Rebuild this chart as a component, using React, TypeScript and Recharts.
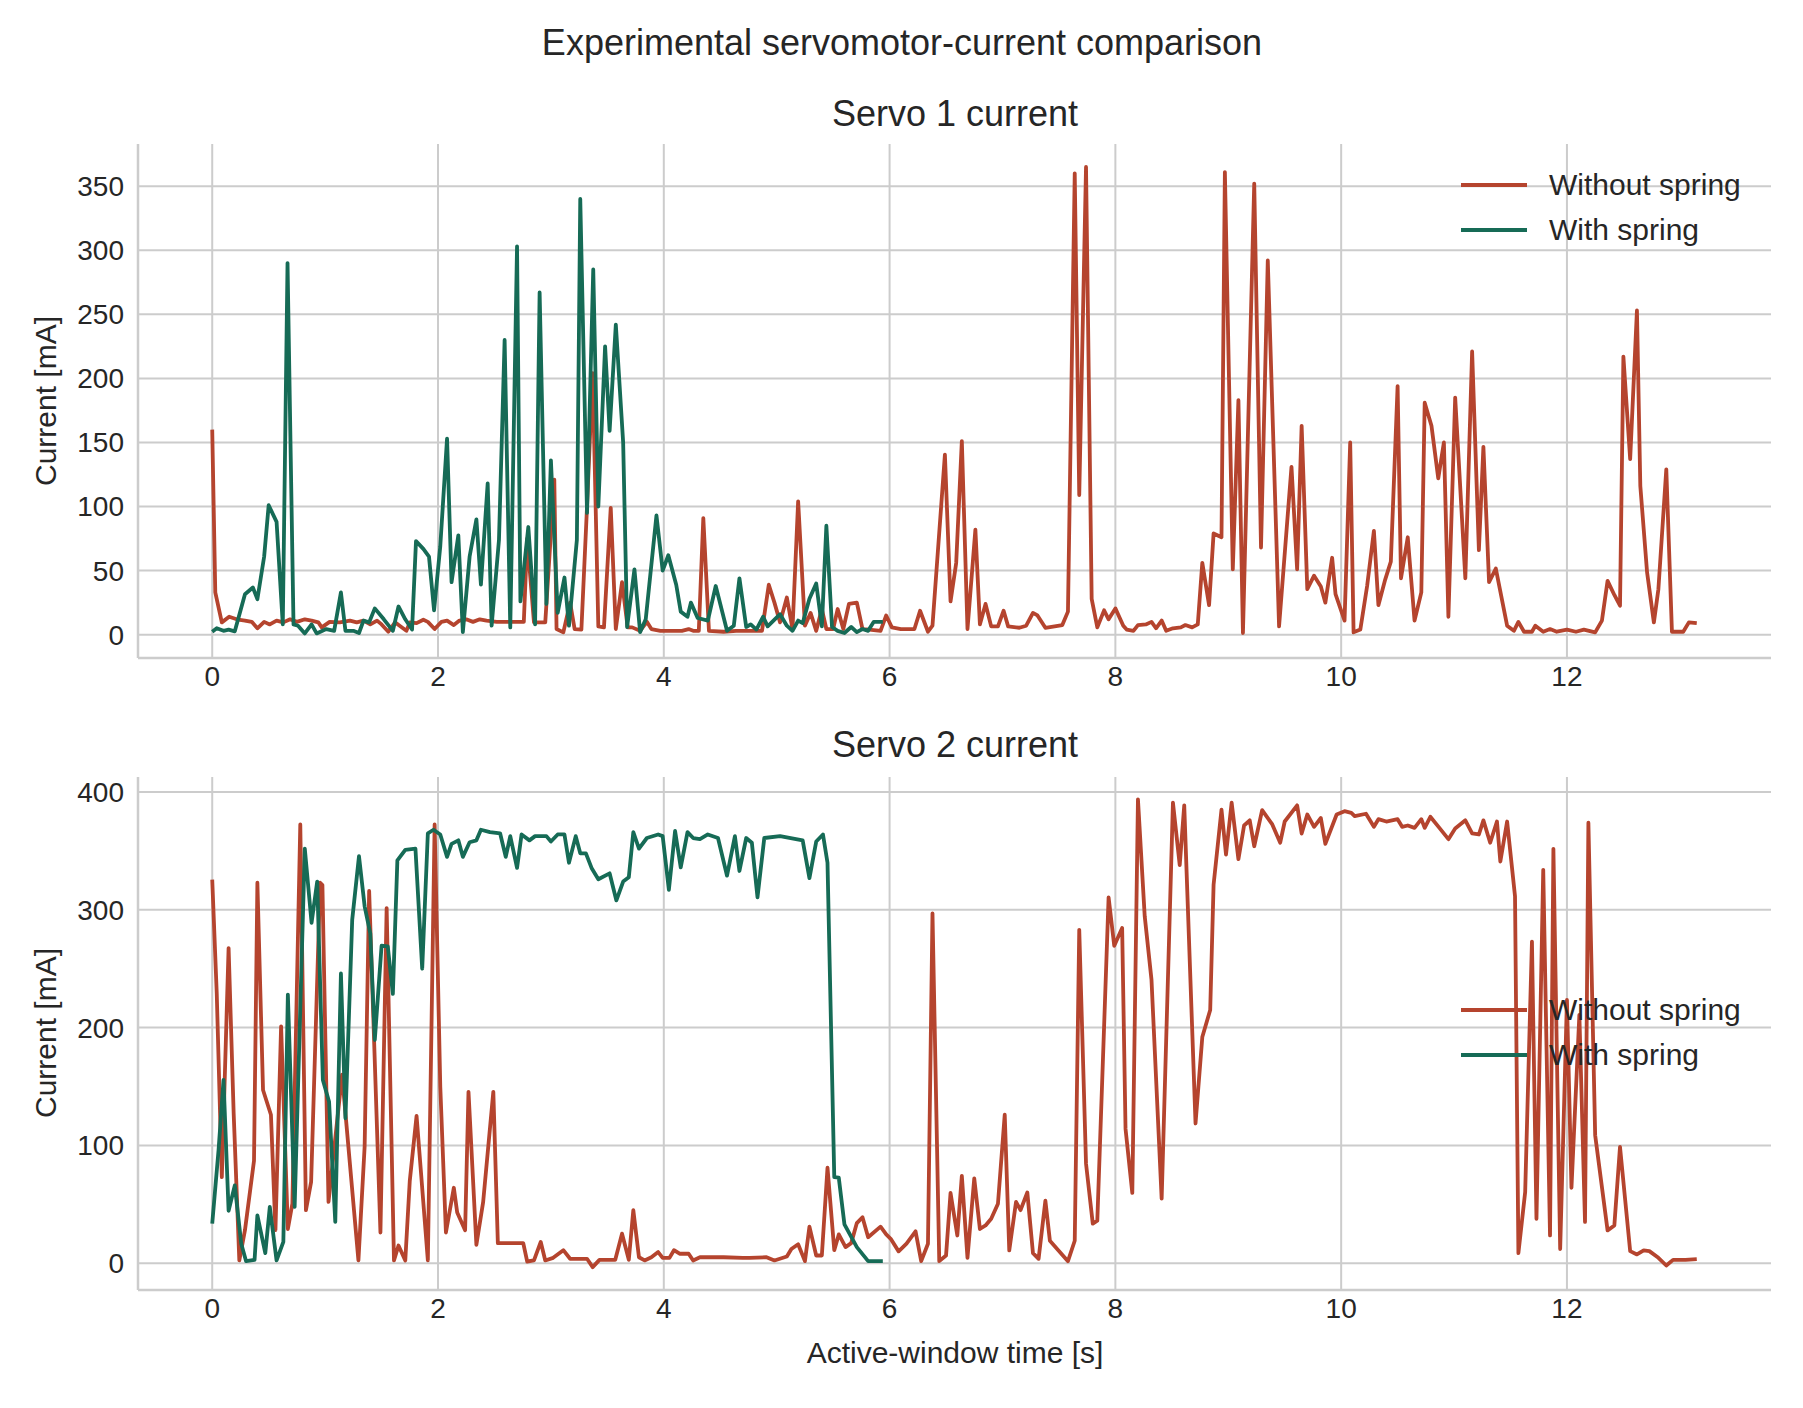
import { CartesianGrid, Legend, Line, LineChart, XAxis, YAxis } from "recharts";

// [time s, current mA] pairs
const servo1WithoutSpring: [number, number][] = [
  [0, 160], [0.027, 33], [0.085, 9.6], [0.15, 14], [0.23, 11.7], [0.29, 11], [0.35, 10], [0.4, 5], [0.46, 10], [0.51, 8],
  [0.57, 11], [0.63, 9.6], [0.69, 12], [0.75, 10], [0.82, 12], [0.88, 11], [0.94, 9.6], [0.97, 5.7], [1.04, 10], [1.13, 9.6],
  [1.22, 11], [1.28, 9.6], [1.34, 11], [1.4, 8], [1.46, 11], [1.5, 8], [1.56, 2.3], [1.62, 9.6], [1.66, 7], [1.72, 3],
  [1.75, 9.6], [1.81, 9], [1.87, 11.7], [1.91, 10], [1.97, 4.4], [2.03, 10], [2.08, 11], [2.14, 7.5], [2.19, 11], [2.25, 12],
  [2.31, 10], [2.37, 12], [2.43, 11], [2.52, 10], [2.64, 10], [2.76, 10], [2.79, 75], [2.85, 9.6], [2.95, 9.6], [3.03, 121],
  [3.05, 4.4], [3.11, 1.8], [3.17, 25], [3.21, 4.4], [3.27, 4], [3.32, 100], [3.37, 204], [3.42, 6.5], [3.47, 5.7], [3.53, 99],
  [3.575, 4.4], [3.63, 41], [3.68, 5.7], [3.72, 5.7], [3.79, 3], [3.85, 10], [3.89, 4.4], [3.97, 3], [4.08, 3], [4.16, 3],
  [4.22, 4.4], [4.26, 3], [4.31, 3], [4.35, 91], [4.4, 3], [4.53, 2.3], [4.64, 3], [4.76, 3], [4.87, 3], [4.93, 39],
  [4.98, 25], [5.03, 9.6], [5.09, 29], [5.14, 4.4], [5.19, 104], [5.25, 7], [5.3, 17], [5.35, 3], [5.4, 20], [5.44, 4.4],
  [5.5, 4.4], [5.54, 20], [5.59, 4.4], [5.64, 24], [5.71, 25], [5.76, 4.4], [5.82, 4], [5.92, 3], [5.97, 15], [6.02, 5.7],
  [6.1, 4.4], [6.22, 4.4], [6.27, 18.7], [6.34, 2.3], [6.38, 7], [6.49, 140.5], [6.54, 26], [6.59, 56], [6.64, 151], [6.69, 4.4],
  [6.76, 82], [6.8, 8], [6.85, 24], [6.9, 6.5], [6.96, 6.5], [7.01, 18.7], [7.05, 6.5], [7.15, 5.4], [7.21, 7], [7.27, 17],
  [7.31, 15], [7.38, 5.4], [7.53, 7.5], [7.58, 18], [7.64, 360], [7.68, 109], [7.74, 365], [7.79, 28], [7.84, 5.7], [7.9, 19],
  [7.94, 12], [8, 20.5], [8.07, 7], [8.1, 4], [8.16, 3], [8.2, 7.5], [8.27, 8], [8.32, 10], [8.36, 5], [8.41, 11],
  [8.45, 3], [8.51, 5], [8.58, 5.7], [8.62, 7.5], [8.68, 5.7], [8.73, 8], [8.77, 56], [8.83, 23], [8.87, 79], [8.94, 76],
  [8.97, 361], [9.04, 51], [9.09, 183], [9.13, 1.3], [9.23, 352], [9.29, 68], [9.35, 292], [9.45, 6.5], [9.56, 131], [9.61, 51],
  [9.65, 163], [9.7, 35.5], [9.76, 46], [9.82, 37.6], [9.86, 25], [9.92, 60], [9.95, 31.6], [10.03, 11], [10.08, 150], [10.11, 1.8],
  [10.17, 4], [10.23, 38], [10.29, 81], [10.33, 23], [10.39, 43], [10.44, 57], [10.5, 194], [10.53, 44], [10.59, 76], [10.65, 11],
  [10.71, 33], [10.74, 181], [10.8, 163], [10.86, 122], [10.91, 150], [10.95, 14], [11.01, 185], [11.1, 44], [11.16, 221], [11.22, 66],
  [11.26, 146.5], [11.31, 41], [11.37, 51.6], [11.47, 7], [11.53, 3], [11.57, 10], [11.62, 2.3], [11.69, 2.3], [11.72, 7], [11.79, 2.3],
  [11.85, 4.4], [11.91, 2.3], [12, 4], [12.08, 2.3], [12.15, 4], [12.25, 1.8], [12.31, 11], [12.36, 42], [12.42, 31], [12.47, 22.6],
  [12.5, 217], [12.56, 137], [12.62, 253], [12.65, 116], [12.71, 48.5], [12.77, 9.6], [12.81, 35.5], [12.88, 129], [12.93, 2.3], [13.03, 2.3],
  [13.08, 9.6], [13.15, 9],
];

const servo1WithSpring: [number, number][] = [
  [0, 2.3], [0.04, 5], [0.1, 3], [0.145, 4], [0.2, 2.6], [0.29, 31.6], [0.36, 36.8], [0.4, 27.7], [0.46, 61], [0.5, 101],
  [0.57, 88], [0.625, 8], [0.667, 290], [0.72, 8], [0.76, 7], [0.82, 1], [0.88, 8], [0.925, 1], [1.01, 4.4], [1.08, 3],
  [1.14, 33], [1.18, 3], [1.25, 3], [1.3, 1.3], [1.34, 11], [1.39, 9.6], [1.44, 20.5], [1.52, 12], [1.6, 3], [1.65, 22],
  [1.71, 12], [1.77, 4], [1.805, 73], [1.87, 67], [1.92, 61], [1.965, 19], [2.02, 69], [2.08, 153], [2.12, 41], [2.18, 77.5],
  [2.22, 2], [2.28, 61], [2.34, 90], [2.38, 39], [2.44, 118], [2.475, 7], [2.54, 74], [2.59, 230], [2.64, 5.7], [2.7, 303],
  [2.73, 26], [2.8, 84], [2.86, 8], [2.9, 267], [2.96, 24], [3, 136], [3.06, 17], [3.12, 44.6], [3.16, 7], [3.23, 74],
  [3.26, 340], [3.32, 95], [3.375, 285], [3.42, 100], [3.48, 225], [3.52, 159], [3.575, 242], [3.64, 150], [3.675, 6], [3.74, 51],
  [3.79, 2], [3.84, 12], [3.935, 93], [3.99, 50], [4.04, 62], [4.11, 39], [4.15, 18], [4.21, 14], [4.24, 25], [4.3, 13],
  [4.39, 11], [4.46, 38], [4.56, 3], [4.62, 7], [4.67, 44], [4.73, 6], [4.77, 8], [4.82, 4], [4.88, 14], [4.92, 6.5],
  [5.03, 16], [5.09, 7], [5.14, 3], [5.19, 11], [5.23, 9], [5.29, 28], [5.35, 40], [5.4, 6.5], [5.44, 85], [5.49, 6],
  [5.54, 3], [5.6, 1.3], [5.66, 6], [5.71, 2], [5.76, 4.4], [5.81, 3], [5.86, 10], [5.94, 10],
];

const servo2WithoutSpring: [number, number][] = [
  [0, 325.7], [0.04, 229], [0.085, 73], [0.145, 267.5], [0.19, 127], [0.24, 2.3], [0.29, 28], [0.37, 87], [0.4, 323], [0.45, 147],
  [0.52, 126], [0.56, 28], [0.61, 201], [0.67, 29], [0.71, 50.5], [0.78, 372.5], [0.83, 45], [0.876, 69], [0.956, 323], [0.976, 321],
  [1.03, 52], [1.15, 160], [1.295, 2.3], [1.35, 99], [1.39, 316], [1.49, 26], [1.545, 301.5], [1.61, 2.3], [1.65, 15], [1.71, 2.3],
  [1.75, 70], [1.81, 125], [1.91, 2.3], [1.97, 372.5], [2.02, 150], [2.07, 26], [2.14, 64], [2.17, 43], [2.24, 28], [2.27, 145.5],
  [2.34, 15.6], [2.4, 52], [2.49, 145.5], [2.53, 17], [2.755, 17], [2.79, 1.4], [2.85, 2.3], [2.91, 18], [2.95, 2.3], [3.02, 4.5],
  [3.11, 11], [3.17, 3.7], [3.32, 3.7], [3.37, -3.4], [3.43, 2.8], [3.57, 2.8], [3.63, 25], [3.69, 2.8], [3.73, 45], [3.78, 5],
  [3.83, 2.3], [3.89, 5], [3.95, 9.4], [3.99, 4.5], [4.05, 4.5], [4.09, 11], [4.14, 8], [4.22, 8], [4.26, 2.3], [4.32, 5],
  [4.53, 5], [4.7, 4.5], [4.76, 4.5], [4.91, 5], [4.98, 2.3], [5.09, 5.7], [5.13, 12], [5.19, 16], [5.25, 1.7], [5.29, 31],
  [5.35, 6.5], [5.4, 6.5], [5.45, 81], [5.51, 11], [5.55, 24.4], [5.61, 13.6], [5.66, 17], [5.71, 34], [5.76, 39], [5.81, 22],
  [5.92, 31], [5.97, 24.4], [6.01, 20.7], [6.08, 10], [6.15, 16.5], [6.23, 27], [6.28, 1.7], [6.34, 16.5], [6.38, 297], [6.44, 1.7],
  [6.5, 6.5], [6.54, 59.6], [6.6, 23.5], [6.64, 74], [6.69, 4.5], [6.75, 72], [6.8, 29], [6.85, 32], [6.9, 37.7], [6.96, 50.5],
  [7.02, 126], [7.06, 10.8], [7.12, 52], [7.16, 45], [7.22, 60], [7.27, 8.5], [7.32, 3.7], [7.38, 53], [7.42, 19], [7.58, 1.7],
  [7.64, 19], [7.68, 283], [7.74, 84.5], [7.8, 33.5], [7.84, 36], [7.94, 310.6], [7.99, 269.5], [8.06, 284.5], [8.09, 114], [8.15, 59.6],
  [8.2, 393.8], [8.26, 294.5], [8.32, 240.6], [8.41, 54.8], [8.51, 391], [8.57, 338], [8.61, 388.7], [8.71, 118.6], [8.77, 192], [8.84, 215],
  [8.87, 321.4], [8.94, 385], [8.98, 347], [9.03, 391], [9.09, 343], [9.14, 371.6], [9.19, 376], [9.23, 354], [9.3, 384.7], [9.39, 372.5],
  [9.46, 357], [9.5, 375], [9.61, 388.7], [9.65, 364.8], [9.7, 381], [9.76, 370.5], [9.82, 378], [9.86, 356], [9.96, 381], [10.03, 383.8],
  [10.09, 382.4], [10.12, 379.6], [10.22, 381.6], [10.29, 370.5], [10.33, 377], [10.4, 375], [10.5, 377], [10.54, 370.5], [10.59, 371.6], [10.65, 369.6],
  [10.71, 377], [10.74, 369.6], [10.79, 379], [10.87, 369.6], [10.95, 360], [11.01, 369], [11.1, 376], [11.16, 365], [11.22, 364], [11.26, 376],
  [11.32, 357], [11.38, 375], [11.41, 341], [11.47, 375], [11.54, 311.5], [11.57, 8.5], [11.63, 60.4], [11.69, 273], [11.73, 37.7], [11.79, 334],
  [11.85, 23.5], [11.88, 351.8], [11.94, 12], [12, 223.5], [12.04, 64], [12.11, 210.8], [12.16, 35], [12.19, 374], [12.25, 108.7], [12.36, 27.8],
  [12.42, 32], [12.47, 98.7], [12.56, 10.2], [12.62, 7.4], [12.68, 10.8], [12.73, 10.2], [12.81, 4.5], [12.88, -2], [12.94, 2.8], [13.05, 2.8],
  [13.15, 3.4],
];

const servo2WithSpring: [number, number][] = [
  [0, 33.5], [0.056, 96], [0.1, 155.5], [0.145, 44.5], [0.2, 66], [0.257, 16.5], [0.3, 1.7], [0.375, 2.8], [0.4, 40.6], [0.47, 8.5],
  [0.51, 47.7], [0.57, 2.3], [0.63, 18], [0.67, 228], [0.73, 47.7], [0.82, 352], [0.88, 289], [0.93, 324], [0.98, 155.5], [1.035, 137],
  [1.09, 35], [1.14, 246], [1.18, 123], [1.24, 291.6], [1.3, 345.5], [1.35, 303], [1.4, 280], [1.44, 189.5], [1.5, 269.5], [1.555, 269],
  [1.6, 228.6], [1.64, 342], [1.71, 351], [1.8, 352], [1.86, 250], [1.91, 365], [1.96, 368], [2.02, 364], [2.08, 345], [2.12, 356],
  [2.18, 359], [2.22, 345], [2.28, 357.4], [2.34, 359], [2.38, 368], [2.46, 366], [2.55, 365], [2.6, 345], [2.64, 362.6], [2.7, 335.6],
  [2.74, 364], [2.81, 359], [2.86, 362.6], [2.96, 362.6], [3, 358], [3.06, 364], [3.12, 364], [3.16, 340], [3.22, 362.6], [3.26, 348],
  [3.31, 348], [3.36, 335.6], [3.42, 326], [3.52, 331], [3.58, 308], [3.64, 324], [3.69, 327.7], [3.73, 366], [3.78, 352], [3.85, 361],
  [3.95, 364], [3.99, 362.6], [4.045, 317], [4.1, 367], [4.15, 336], [4.21, 366], [4.26, 361], [4.32, 360], [4.39, 364], [4.48, 361],
  [4.56, 329], [4.63, 362.6], [4.67, 333], [4.73, 361], [4.78, 357], [4.83, 310.6], [4.89, 361], [5.03, 362.6], [5.23, 359], [5.29, 327],
  [5.35, 358], [5.41, 364], [5.45, 340], [5.51, 73], [5.55, 72.6], [5.6, 33], [5.71, 13.6], [5.81, 1.7], [5.94, 1.7],
];

const timeTicks = [0, 2, 4, 6, 8, 10, 12];
const servo1Ticks = [0, 50, 100, 150, 200, 250, 300, 350];
const servo2Ticks = [0, 100, 200, 300, 400];

const RED = "#b5442e";
const GREEN = "#166b56";
const TEXT = "#262626";
const GRID = "#cccccc";
const FONT = '"Liberation Sans", Arial, Helvetica, sans-serif';

const toPoints = (pairs: [number, number][]) => pairs.map(([t, mA]) => ({ t, mA }));

function LegendBox() {
  const items = [
    { label: "Without spring", color: RED },
    { label: "With spring", color: GREEN },
  ];
  return (
    <div style={{ fontFamily: FONT, fontSize: 30, color: TEXT }}>
      {items.map((item) => (
        <div key={item.label} style={{ display: "flex", alignItems: "center", height: 45 }}>
          <svg width={66} height={6}>
            <line x1={0} y1={3} x2={66} y2={3} stroke={item.color} strokeWidth={4} />
          </svg>
          <span style={{ marginLeft: 22, lineHeight: "30px" }}>{item.label}</span>
        </div>
      ))}
    </div>
  );
}

function ServoPanel({
  height,
  margin,
  yDomain,
  yTicks,
  withoutSpring,
  withSpring,
  legendTop,
}: {
  height: number;
  margin: { top: number; right: number; bottom: number; left: number };
  yDomain: [number, number];
  yTicks: number[];
  withoutSpring: [number, number][];
  withSpring: [number, number][];
  legendTop: number;
}) {
  const tickStyle = { fontSize: 28, fill: TEXT, fontFamily: FONT };
  return (
    <LineChart width={1803} height={height} margin={margin}>
      <CartesianGrid stroke={GRID} strokeWidth={2} syncWithTicks />
      <XAxis
        type="number"
        dataKey="t"
        domain={[-0.6575, 13.8075]}
        ticks={timeTicks}
        allowDataOverflow
        height={40}
        tickLine={false}
        tickSize={0}
        tickMargin={8}
        axisLine={{ stroke: GRID, strokeWidth: 2.5 }}
        tick={tickStyle}
      />
      <YAxis
        type="number"
        domain={yDomain}
        ticks={yTicks}
        allowDataOverflow
        width={100}
        tickLine={false}
        tickSize={0}
        tickMargin={14}
        axisLine={{ stroke: GRID, strokeWidth: 2.5 }}
        tick={tickStyle}
      />
      <Line
        data={toPoints(withoutSpring)}
        dataKey="mA"
        name="Without spring"
        type="linear"
        stroke={RED}
        strokeWidth={3.8}
        strokeLinejoin="round"
        dot={false}
        isAnimationActive={false}
      />
      <Line
        data={toPoints(withSpring)}
        dataKey="mA"
        name="With spring"
        type="linear"
        stroke={GREEN}
        strokeWidth={3.8}
        strokeLinejoin="round"
        dot={false}
        isAnimationActive={false}
      />
      <Legend
        layout="vertical"
        align="center"
        verticalAlign="middle"
        content={() => <LegendBox />}
        wrapperStyle={{ left: 1461, top: legendTop, width: 320, height: 90 }}
      />
    </LineChart>
  );
}

const titleStyle: React.CSSProperties = {
  position: "absolute",
  fontFamily: FONT,
  color: TEXT,
  fontSize: 36,
  whiteSpace: "nowrap",
  transform: "translate(-50%, -50%)",
};

const labelStyle: React.CSSProperties = {
  ...titleStyle,
  fontSize: 30,
};

export default function App() {
  return (
    <div style={{ position: "absolute", left: 0, top: 0, width: 1803, height: 1408, background: "#fff" }}>
      <div style={{ position: "absolute", left: 0, top: 0 }}>
        <ServoPanel
          height={720}
          margin={{ top: 144, right: 32, bottom: 22, left: 38 }}
          yDomain={[-18.2, 382.9]}
          yTicks={servo1Ticks}
          withoutSpring={servo1WithoutSpring}
          withSpring={servo1WithSpring}
          legendTop={162}
        />
      </div>
      <div style={{ position: "absolute", left: 0, top: 700 }}>
        <ServoPanel
          height={708}
          margin={{ top: 77, right: 32, bottom: 78, left: 38 }}
          yDomain={[-22.8, 412.8]}
          yTicks={servo2Ticks}
          withoutSpring={servo2WithoutSpring}
          withSpring={servo2WithSpring}
          legendTop={287}
        />
      </div>

      <div style={{ ...titleStyle, left: 902, top: 43 }}>Experimental servomotor-current comparison</div>
      <div style={{ ...titleStyle, left: 955, top: 114 }}>Servo 1 current</div>
      <div style={{ ...titleStyle, left: 955, top: 745 }}>Servo 2 current</div>
      <div style={{ ...labelStyle, left: 955, top: 1353 }}>Active-window time [s]</div>
      <div style={{ ...labelStyle, left: 46, top: 401, transform: "translate(-50%, -50%) rotate(-90deg)" }}>
        Current [mA]
      </div>
      <div style={{ ...labelStyle, left: 46, top: 1033, transform: "translate(-50%, -50%) rotate(-90deg)" }}>
        Current [mA]
      </div>
    </div>
  );
}
